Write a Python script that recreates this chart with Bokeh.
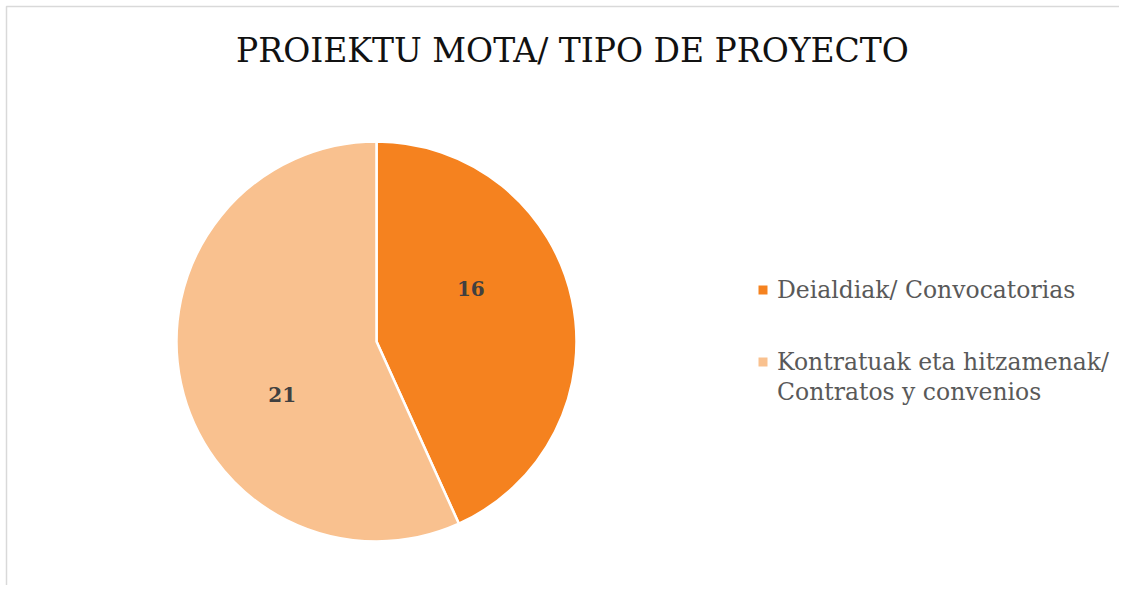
import math
from bokeh.plotting import figure
from bokeh.models import Range1d, ColumnDataSource
from bokeh.core.properties import value
from bokeh.embed import file_html
from bokeh.resources import INLINE

# ---- data ----
title_text = "PROIEKTU MOTA/ TIPO DE PROYECTO"
categories = ["Deialdiak/ Convocatorias", "Kontratuak eta hitzamenak/\nContratos y convenios"]
values = [16, 21]
colors = ["#F5821F", "#F9C18F"]

# ---- layout constants (pixel-like data space) ----
W, H = 1119, 585
FONT = "DejaVu Serif"
cx, cy, R = 376, 601 - 341, 200

p = figure(width=W, height=H, output_backend="svg", toolbar_location=None,
           x_range=Range1d(0, W), y_range=Range1d(601 - H, 601),
           min_border=0)
p.axis.visible = False
p.grid.visible = False
p.outline_line_color = None
p.background_fill_color = "white"
p.border_fill_color = "white"

# chart-area border (left and top edges visible in the reference)
p.line(x=[6, 6, W + 50], y=[0, 601 - 6, 601 - 6], line_color="#D9D9D9",
       line_width=1.5)

total = sum(values)
starts, ends, lx, ly = [], [], [], []
cum = 0.0
label_shift = math.radians(17)
label_r = 0.54 * R
for v in values:
    a0 = math.pi / 2 - 2 * math.pi * cum / total
    a1 = math.pi / 2 - 2 * math.pi * (cum + v) / total
    starts.append(a0)
    ends.append(a1)
    mid = (a0 + a1) / 2 + label_shift
    lx.append(cx + label_r * math.cos(mid))
    ly.append(cy + label_r * math.sin(mid))
    cum += v

src = ColumnDataSource(dict(start=starts, end=ends, color=colors,
                            lx=lx, ly=ly, lab=[str(v) for v in values]))
p.wedge(x=cx, y=cy, radius=R, start_angle="start", end_angle="end",
        direction="clock", fill_color="color", line_color="white",
        line_width=2.5, source=src)

p.text(x="lx", y="ly", text="lab", source=src, text_font=value(FONT),
       text_font_size="20px", text_font_style="bold", text_color="#404040",
       text_align="center", text_baseline="middle")

# title
p.text(x=[572], y=[601 - 50], text=[title_text], text_font=value(FONT),
       text_font_size="33px", text_color="#111111",
       text_align="center", text_baseline="middle")

# legend
leg_x, leg_y0, leg_gap, line_gap = 762.5, 601 - 289.5, 72, 29.5
sq_x, sq_y, tx, ty, tt = [], [], [], [], []
for i, cat in enumerate(categories):
    y0 = leg_y0 - i * leg_gap
    sq_x.append(leg_x)
    sq_y.append(y0)
    for j, line in enumerate(cat.split("\n")):
        tx.append(leg_x + 14)
        ty.append(y0 - j * line_gap)
        tt.append(line)
p.scatter(x=sq_x, y=sq_y, marker="square", size=9, fill_color=colors,
          line_color=None)
p.text(x=tx, y=ty, text=tt, text_font=value(FONT), text_font_size="23.5px",
       text_color="#595959", text_align="left", text_baseline="middle")

open("out.html", "w").write(file_html(p, INLINE))
